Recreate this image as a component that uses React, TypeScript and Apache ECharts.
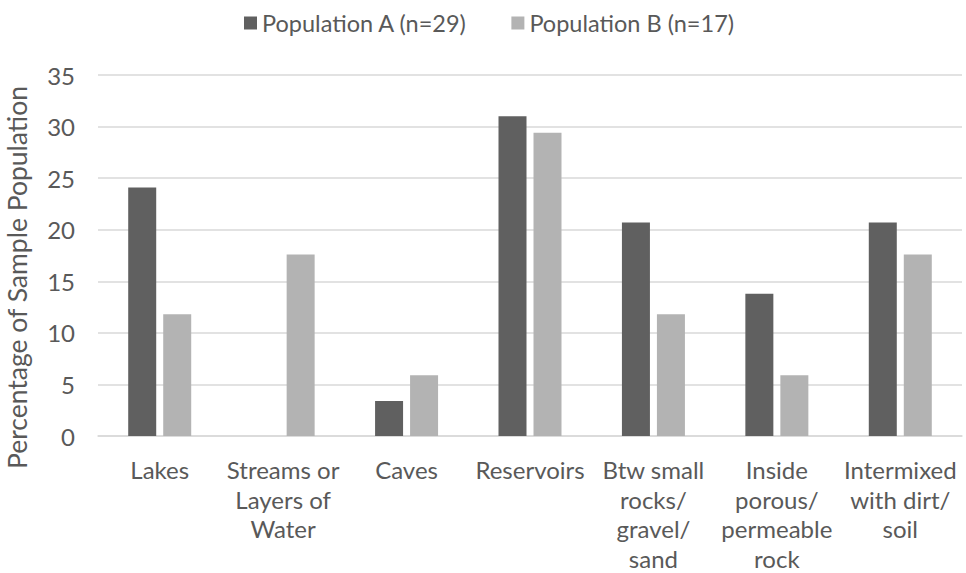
import React, { useEffect, useRef } from "react";
import * as echarts from "echarts";

const categories = [
  "Lakes",
  "Streams or\nLayers of\nWater",
  "Caves",
  "Reservoirs",
  "Btw small\nrocks/\ngravel/\nsand",
  "Inside\nporous/\npermeable\nrock",
  "Intermixed\nwith dirt/\nsoil",
];
const popA = [24.1, 0, 3.4, 31.0, 20.7, 13.8, 20.7];
const popB = [11.8, 17.6, 5.9, 29.4, 11.8, 5.9, 17.6];
const seriesNames = ["Population A (n=29)", "Population B (n=17)"];
const yAxisTitle = "Percentage of Sample Population";

const FONT = "Lato, 'Open Sans', sans-serif";
const TEXT = "#595959";

export default function App() {
  const ref = useRef<HTMLDivElement>(null);
  useEffect(() => {
    if (!ref.current) return;
    const chart = echarts.init(ref.current, undefined, { renderer: "svg" });
    chart.setOption({
      animation: false,
      backgroundColor: "#ffffff",
      textStyle: { fontFamily: FONT },
      legend: {
        top: 6,
        left: 239,
        itemWidth: 13,
        itemHeight: 13,
        itemGap: 44,
        icon: "rect",
        textStyle: { fontFamily: FONT, fontSize: 23.5, color: TEXT },
        data: seriesNames,
      },
      grid: {
        left: 98,
        right: 4,
        top: 75,
        bottom: 137,
        containLabel: false,
        outerBoundsMode: "none",
      },
      xAxis: {
        type: "category",
        data: categories,
        axisLine: { lineStyle: { color: "#d9d9d9", width: 1.5 } },
        axisTick: { show: false },
        axisLabel: {
          interval: 0,
          fontFamily: FONT,
          fontSize: 24,
          color: TEXT,
          lineHeight: 29.5,
          margin: 19,
          align: "center",
        },
      },
      yAxis: {
        type: "value",
        min: 0,
        max: 35,
        interval: 5,
        name: yAxisTitle,
        nameLocation: "middle",
        nameRotate: 90,
        nameGap: 68,
        nameTextStyle: {
          fontFamily: FONT,
          fontSize: 26.5,
          color: TEXT,
          padding: [0, 44, 0, 0],
        },
        axisLine: { show: false },
        axisTick: { show: false },
        splitLine: { lineStyle: { color: "#d9d9d9", width: 1.5 } },
        axisLabel: { fontFamily: FONT, fontSize: 24, color: TEXT, margin: 23 },
      },
      series: [
        {
          name: seriesNames[0],
          type: "bar",
          data: popA,
          barWidth: 28,
          barGap: "25%",
          itemStyle: { color: "#606060" },
        },
        {
          name: seriesNames[1],
          type: "bar",
          data: popB,
          barWidth: 28,
          barGap: "25%",
          itemStyle: { color: "#b3b3b3" },
        },
      ],
    });
    return () => chart.dispose();
  }, []);
  return (
    <div
      ref={ref}
      style={{ position: "absolute", left: 0, top: 0, width: 966, height: 573 }}
    />
  );
}
